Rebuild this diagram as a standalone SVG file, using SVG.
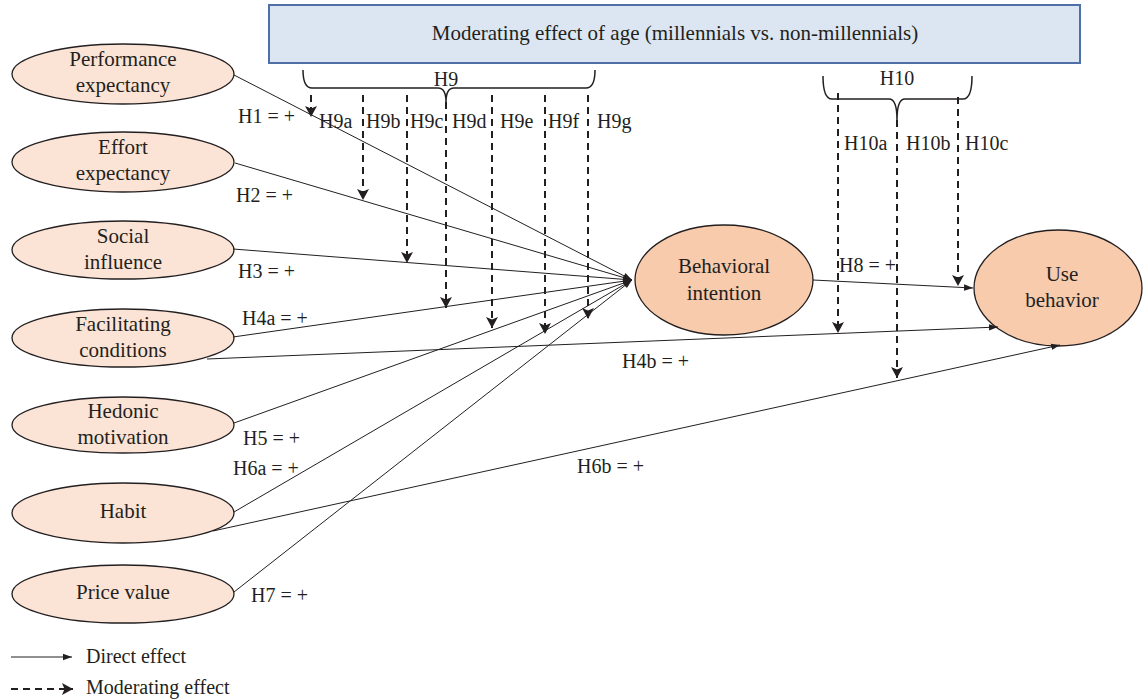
<svg xmlns="http://www.w3.org/2000/svg" width="1143" height="699" viewBox="0 0 1143 699">
<style>
text{font-family:"Liberation Serif","Times New Roman",serif;font-size:20px;fill:#231f20}
.c{text-anchor:middle}
.n{font-size:21px}
.lite{fill:#fbe4d5;stroke:#231f20;stroke-width:1.3}
.dark{fill:#f8cbad;stroke:#231f20;stroke-width:1.3}
.d{stroke:#231f20;stroke-width:1;fill:none;marker-end:url(#ah)}
.m{stroke:#231f20;stroke-width:2;stroke-dasharray:7 5;fill:none;marker-end:url(#mh)}
.br{stroke:#231f20;stroke-width:1.5;fill:none}
</style>
<defs>
<marker id="ah" markerUnits="userSpaceOnUse" markerWidth="10" markerHeight="8" refX="9" refY="4" orient="auto"><path d="M0,0.8 L9,4 L0,7.2 z" fill="#231f20"/></marker>
<marker id="mh" markerUnits="userSpaceOnUse" markerWidth="13" markerHeight="13" refX="11" refY="6.5" orient="auto"><path d="M0,0.5 L11,6.5 L0,12.5 L2.5,6.5 z" fill="#231f20"/></marker>
</defs>
<g id="moderator">
<rect x="269" y="5" width="811" height="58" fill="#dce6f2" stroke="#4f6fa8" stroke-width="2"/>
<text class="c n" x="675" y="40">Moderating effect of age (millennials vs. non-millennials)</text>
</g>
<g id="performance"><ellipse class="lite" cx="123" cy="74" rx="111" ry="30"/><text class="c n" x="123" y="66">Performance</text><text class="c n" x="123" y="92">expectancy</text></g>
<g id="effort"><ellipse class="lite" cx="123" cy="162" rx="111" ry="30"/><text class="c n" x="123" y="154">Effort</text><text class="c n" x="123" y="180">expectancy</text></g>
<g id="social"><ellipse class="lite" cx="123" cy="250" rx="111" ry="29"/><text class="c n" x="123" y="243">Social</text><text class="c n" x="123" y="269">influence</text></g>
<g id="facilitating"><ellipse class="lite" cx="123" cy="338" rx="111" ry="29"/><text class="c n" x="123" y="331">Facilitating</text><text class="c n" x="123" y="357">conditions</text></g>
<g id="hedonic"><ellipse class="lite" cx="123" cy="425" rx="111" ry="28"/><text class="c n" x="123" y="418">Hedonic</text><text class="c n" x="123" y="444">motivation</text></g>
<g id="habit"><ellipse class="lite" cx="123" cy="513" rx="111" ry="30"/><text class="c n" x="123" y="518">Habit</text></g>
<g id="price"><ellipse class="lite" cx="123" cy="594" rx="111" ry="29"/><text class="c n" x="123" y="599">Price value</text></g>
<g id="intention"><ellipse class="dark" cx="724" cy="280" rx="89" ry="55"/><text class="c n" x="724" y="273">Behavioral</text><text class="c n" x="724" y="300">intention</text></g>
<g id="use"><ellipse class="dark" cx="1058" cy="288" rx="84" ry="58"/><text class="c n" x="1062" y="281">Use</text><text class="c n" x="1062" y="307">behavior</text></g>
<g id="braces">
<path class="br" d="M303,70 Q303,88 312,88 L438,88 Q446,88 446,102 Q446,88 454,88 L586,88 Q595,88 595,70"/>
<text class="c" x="446" y="86">H9</text>
<path class="br" d="M823,76 Q823,99 832,99 L889,99 Q897,99 897,120 Q897,99 905,99 L963,99 Q972,99 972,76"/>
<text class="c" x="897" y="85">H10</text>
</g>
<g id="connectors">
<path class="d" d="M234,75 L632,280"/>
<path class="d" d="M235,163 L632,280"/>
<path class="d" d="M233,249 L632,280"/>
<path class="d" d="M233,337 L632,280"/>
<path class="d" d="M234,423 L632,280"/>
<path class="d" d="M234,512 L632,280"/>
<path class="d" d="M234,592 L632,280"/>
<path class="d" d="M207,359 L998,327"/>
<path class="d" d="M213,531 L1060,345"/>
<path class="d" d="M813,280 L973,288"/>
<path class="m" d="M311,95 L311,117"/>
<path class="m" d="M363,95 L363,200"/>
<path class="m" d="M407,95 L407,263"/>
<path class="m" d="M446,102 L446,308"/>
<path class="m" d="M492,95 L492,328"/>
<path class="m" d="M545,95 L545,334"/>
<path class="m" d="M588,95 L588,319"/>
<path class="m" d="M838,93 L838,333"/>
<path class="m" d="M897,120 L897,378"/>
<path class="m" d="M958,97 L958,286"/>
</g>
<g id="labels">
<text x="238" y="123">H1 = +</text>
<text x="236" y="202">H2 = +</text>
<text x="238" y="278">H3 = +</text>
<text x="242" y="325">H4a = +</text>
<text x="622" y="368">H4b = +</text>
<text x="243" y="445">H5 = +</text>
<text x="233" y="475">H6a = +</text>
<text x="577" y="473">H6b = +</text>
<text x="251" y="602">H7 = +</text>
<text x="839" y="272">H8 = +</text>
<text x="319" y="128">H9a</text>
<text x="366" y="128">H9b</text>
<text x="410" y="128">H9c</text>
<text x="452" y="128">H9d</text>
<text x="500" y="128">H9e</text>
<text x="548" y="128">H9f</text>
<text x="597" y="128">H9g</text>
<text x="844" y="150">H10a</text>
<text x="906" y="150">H10b</text>
<text x="965" y="150">H10c</text>
</g>
<g id="legend">
<path class="d" d="M11,657 L72,657"/>
<text x="86" y="663">Direct effect</text>
<path class="m" d="M11,689 L73,689"/>
<text x="86" y="694">Moderating effect</text>
</g>
</svg>
